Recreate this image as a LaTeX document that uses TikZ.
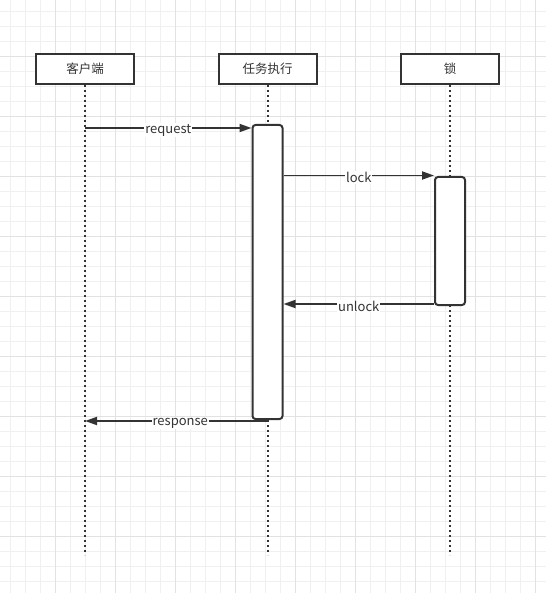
\documentclass[tikz,border=0pt]{standalone}
\usepackage{fontspec}
\setmainfont{Noto Sans CJK SC}
\usetikzlibrary{arrows.meta,positioning}
\definecolor{ink}{HTML}{333333}
\definecolor{gridminor}{HTML}{F0F0F0}
\definecolor{gridmajor}{HTML}{E2E2E2}
\tikzset{
  actor/.style={draw=ink,line width=2pt,fill=white,minimum width=98pt,
    minimum height=30pt,inner sep=0pt,text=ink,font=\fontsize{12.5}{14}\selectfont},
  lifeline/.style={draw=ink,line width=2pt,dash pattern=on 2pt off 3pt},
  activation/.style={draw=ink,line width=2pt,fill=white,rounded corners=3pt,
    minimum width=30pt,inner sep=0pt},
  message/.style={draw=ink,line width=1.9pt,-{Triangle[length=12pt,width=8pt]}},
  msglabel/.style={fill=white,inner sep=1pt,text=ink,yshift=-2pt,font=\fontsize{13}{15}\selectfont},
  sequence/.style={x=1pt,y=-1pt,node distance=182.5pt}
}
\begin{document}
\begin{tikzpicture}[sequence]
  \useasboundingbox (0,0) rectangle (546,593);
  % background grid
  \foreach \gx in {0,...,35} \draw[gridminor,line width=1pt] (10.5+15*\gx,0) -- (10.5+15*\gx,593);
  \foreach \gy in {0,...,38} \draw[gridminor,line width=1pt] (0,11.3+15*\gy) -- (546,11.3+15*\gy);
  \foreach \gx in {0,...,8} \draw[gridmajor,line width=1pt] (55.5+60*\gx,0) -- (55.5+60*\gx,593);
  \foreach \gy in {0,...,8} \draw[gridmajor,line width=1pt] (0,56.3+60*\gy) -- (546,56.3+60*\gy);

  \node[actor] (client) at (85,69) {客户端};
  \node[actor,right of=client] (task) {任务执行};
  \node[actor,right of=task] (lock) {锁};

  \coordinate (client end) at (client |- 0,555);
  \coordinate (task end) at (task |- 0,555);
  \coordinate (lock end) at (lock |- 0,555);
  \draw[lifeline] (client.south) -- (client end);
  \draw[lifeline] (task.south) -- (task end);
  \draw[lifeline] (lock.south) -- (lock end);

  \node[activation,minimum height=294pt] (task act) at (task |- 0,272) {};
  \node[activation,minimum height=128pt] (lock act) at (lock |- 0,241) {};

  \draw[message] (client |- 0,128) -- node[msglabel] {request} (task act.west |- 0,128);
  \draw[message] (task act.east |- 0,175.5) -- node[msglabel] {lock} (lock act.west |- 0,175.5);
  \draw[message] (lock act.west |- 0,304) -- node[msglabel] {unlock} (task act.east |- 0,304);
  \draw[message] (task |- 0,421) -- node[msglabel,xshift=4pt] {response} (client |- 0,421);
\end{tikzpicture}
\end{document}
